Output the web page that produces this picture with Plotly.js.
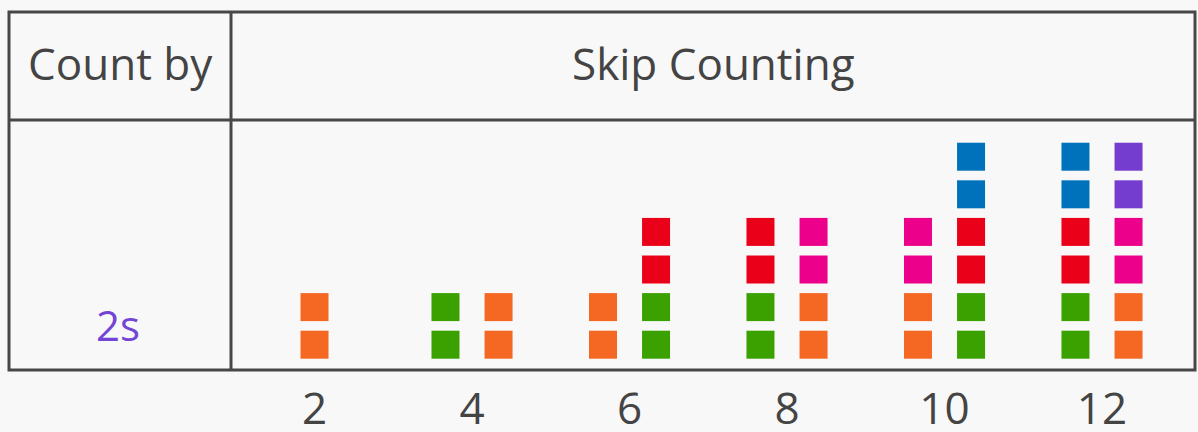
<!DOCTYPE html>
<html>
<head>
<meta charset="utf-8">
<script src="https://cdn.plot.ly/plotly-3.0.1.min.js"></script>
<style>
  html, body { margin: 0; padding: 0; background: #F8F8F8; }
  #chart { width: 1198px; height: 432px; }
</style>
</head>
<body>
<div id="chart"></div>
<script>
// ---- Data ----
const countBy = [2, 4, 6, 8, 10, 12];
const tickLabels = ["2", "4", "6", "8", "10", "12"];
// each colour entry stands for a pair of squares (one skip of 2)
const leftColumn  = [[], ["green"], ["orange"], ["green", "red"], ["orange", "pink"], ["green", "red", "blue"]];
const rightColumn = [["orange"], ["orange"], ["green", "red"], ["orange", "pink"], ["green", "red", "blue"], ["orange", "pink", "purple"]];
const squaresPerEntry = 2;
const rowLabel = "2s";
const headerLeft = "Count by";
const headerRight = "Skip Counting";

// ---- Styles ----
const palette = {
  orange: "#F46824",
  green:  "#3AA100",
  red:    "#EB0019",
  pink:   "#EC008B",
  blue:   "#0072BB",
  purple: "#753DCF"
};
const colorOrder = ["orange", "green", "red", "pink", "blue", "purple"];
const W = 1198, H = 432;
const px = x => x / W;
const py = y => 1 - y / H;
const colOffset = 0.337;
const textColor = "#444444";
const lineColor = "#474747";
const FONT = "Open Sans, sans-serif";

// ---- Build traces ----
const pts = {};
colorOrder.forEach(c => pts[c] = { x: [], y: [] });
countBy.forEach((n, i) => {
  const cols = [leftColumn[i], rightColumn[i]].filter(c => c.length > 0);
  cols.forEach((col, ci) => {
    const off = cols.length === 1 ? 0 : (ci === 0 ? -colOffset : colOffset);
    col.forEach((c, k) => {
      for (let s = 0; s < squaresPerEntry; s++) {
        pts[c].x.push(n + off);
        pts[c].y.push(k * squaresPerEntry + s);
      }
    });
  });
});
const traces = colorOrder.map(c => ({
  type: "scatter",
  mode: "markers",
  x: pts[c].x,
  y: pts[c].y,
  name: c,
  hoverinfo: "skip",
  marker: { symbol: "square", size: 28, color: palette[c], line: { width: 0 } }
}));

const layout = {
  width: W, height: H,
  margin: { l: 0, r: 0, t: 0, b: 0, pad: 0 },
  paper_bgcolor: "#F8F8F8",
  plot_bgcolor: "#F8F8F8",
  showlegend: false,
  xaxis: {
    domain: [0, 1],
    range: [-1.994, 13.219],
    tickmode: "array",
    tickvals: countBy,
    ticktext: tickLabels,
    showgrid: false, zeroline: false, showline: false, ticks: "",
    tickfont: { family: FONT, size: 44, color: textColor },
    ticklabelstandoff: 9,
    fixedrange: true
  },
  yaxis: {
    domain: [py(370), py(121)],
    range: [-0.673, 5.95],
    showgrid: false, zeroline: false, showline: false, showticklabels: false, ticks: "",
    fixedrange: true
  },
  shapes: [
    { type: "rect", xref: "paper", yref: "paper", x0: px(9), x1: px(1195), y0: py(12), y1: py(370),
      line: { color: lineColor, width: 3 } },
    { type: "line", xref: "paper", yref: "paper", x0: px(9), x1: px(1195), y0: py(120), y1: py(120),
      line: { color: lineColor, width: 3 } },
    { type: "line", xref: "paper", yref: "paper", x0: px(231), x1: px(231), y0: py(12), y1: py(370),
      line: { color: lineColor, width: 3 } }
  ],
  annotations: [
    { text: headerLeft, xref: "paper", yref: "paper", x: px(120.5), y: py(63), xanchor: "center", yanchor: "middle",
      showarrow: false, font: { family: FONT, size: 44, color: textColor } },
    { text: headerRight, xref: "paper", yref: "paper", x: px(713), y: py(63), xanchor: "center", yanchor: "middle",
      showarrow: false, font: { family: FONT, size: 44, color: textColor } },
    { text: rowLabel, xref: "paper", yref: "y", x: px(118.5), y: (squaresPerEntry - 1) / 2 + 0.04, xanchor: "center", yanchor: "middle",
      showarrow: false, font: { family: FONT, size: 42, color: "#7445D4" } }
  ]
};

Plotly.newPlot("chart", traces, layout, { staticPlot: true, displayModeBar: false });
</script>
</body>
</html>
